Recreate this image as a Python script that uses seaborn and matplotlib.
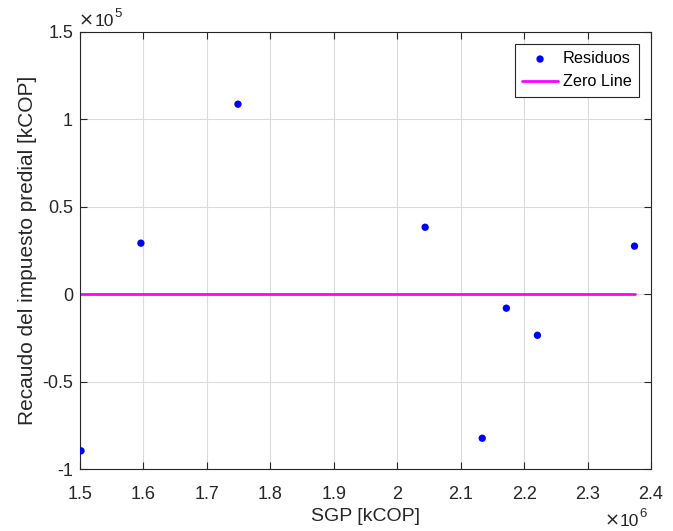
import matplotlib
matplotlib.use("Agg")
import matplotlib.pyplot as plt
import seaborn as sns
import pandas as pd
from matplotlib.ticker import FuncFormatter

sgp = [1.5016e6, 1.596e6, 1.749e6, 2.044e6, 2.134e6, 2.172e6, 2.221e6, 2.374e6]
residuos = [-89600, 29200, 108700, 38300, -82400, -8000, -23500, 27500]
x_ticks = [1.5, 1.6, 1.7, 1.8, 1.9, 2.0, 2.1, 2.2, 2.3, 2.4]
y_ticks = [-1, -0.5, 0, 0.5, 1, 1.5]

sns.set_theme(style="white")
plt.rcParams['font.family'] = ['Liberation Sans', 'DejaVu Sans']

df = pd.DataFrame({"SGP": sgp, "Residuos": residuos})
zero_df = pd.DataFrame({"SGP": [min(sgp), max(sgp)], "Zero": [0, 0]})

W, H = 673, 531
fig = plt.figure(figsize=(W / 100, H / 100), dpi=100)
ax = fig.add_axes([80/W, 62/H, (651-80)/W, (469-32)/H])

sns.scatterplot(data=df, x="SGP", y="Residuos", ax=ax, color="#0000FF", s=28,
                edgecolor="none", label="Residuos", zorder=3)
sns.lineplot(data=zero_df, x="SGP", y="Zero", ax=ax, color="#FF00FF", lw=2,
             label="Zero Line", zorder=2)

ax.set_xlim(1.5e6, 2.4e6)
ax.set_ylim(-1e5, 1.5e5)
ax.set_xticks([v * 1e6 for v in x_ticks])
ax.set_yticks([v * 1e5 for v in y_ticks])
ax.xaxis.set_major_formatter(FuncFormatter(lambda v, p: f"{v/1e6:g}"))
ax.yaxis.set_major_formatter(FuncFormatter(lambda v, p: f"{v/1e5:g}"))

dark = (0.15, 0.15, 0.15)
ax.grid(True, color=(0.86, 0.86, 0.86), lw=0.8)
ax.set_axisbelow(True)
for s in ax.spines.values():
    s.set_color(dark)
    s.set_linewidth(0.8)
    s.set_visible(True)
ax.tick_params(direction="in", length=5, width=0.8, colors=dark, labelsize=13,
               top=True, right=True, bottom=True, left=True)
ax.tick_params(axis="x", pad=12)
ax.tick_params(axis="y", pad=5)

ax.set_xlabel("SGP [kCOP]", fontsize=14, color=dark, labelpad=4)
ax.set_ylabel("Recaudo del impuesto predial [kCOP]", fontsize=15, color=dark, labelpad=4)

renderer = fig.canvas.get_renderer()


def width_px(s, size, family):
    t = fig.text(0, 0, s, fontsize=size, family=family)
    w = t.get_window_extent(renderer).width
    t.remove()
    return w


def exponent(x_px, base_px, anchor, exp):
    pieces = [("×", 13, ["DejaVu Sans"], 0, 0.5),
              ("10", 12.5, ["Liberation Sans"], 0, 0.3),
              (exp, 9.5, ["Liberation Sans"], 9, 0)]
    widths = [width_px(p[0], p[1], p[2]) for p in pieces]
    total = sum(widths) + sum(p[4] for p in pieces)
    x = x_px if anchor == "left" else x_px - total
    for (s, size, fam, dy, gap), w in zip(pieces, widths):
        fig.text(x / W, (H - base_px + dy) / H, s, fontsize=size, family=fam,
                 color=dark, ha="left", va="baseline")
        x += w + gap


exponent(79, 26, "left", "5")
exponent(647, 526, "right", "6")

leg = ax.legend(loc="upper right", fontsize=11.7, frameon=True, fancybox=False,
                borderpad=0.45, handlelength=2.2, handletextpad=0.3, labelspacing=0.5,
                borderaxespad=0, bbox_to_anchor=(1 - 12/571, 1 - 12/437))
leg.get_frame().set_edgecolor(dark)
leg.get_frame().set_linewidth(0.8)
leg.get_frame().set_alpha(1)
for t in leg.get_texts():
    t.set_color("black")

fig.savefig("out.png", dpi=100)
